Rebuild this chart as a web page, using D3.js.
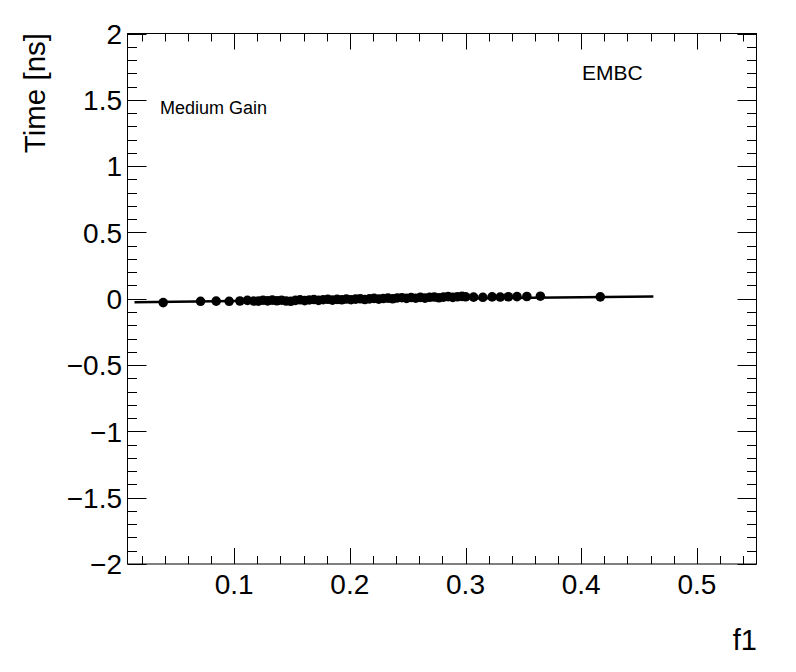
<!DOCTYPE html>
<html><head><meta charset="utf-8">
<script src="https://cdn.jsdelivr.net/npm/d3@7"></script>
<style>body{margin:0;background:#fff}svg{display:block}text{font-family:"Liberation Sans",Arial,sans-serif;fill:#000}</style>
</head><body>
<svg id="c" width="796" height="672"></svg>
<script>
const f1Values = [0.0387,0.071,0.0845,0.0957,0.105,0.1115,0.117,
0.121,0.125,0.129,0.133,0.137,0.141,0.145,0.149,0.153,0.157,0.161,0.165,0.169,0.173,0.177,0.181,0.185,0.189,0.193,0.197,
0.201,0.205,0.209,0.213,0.217,0.221,0.225,0.229,0.233,0.237,0.241,0.245,0.249,0.253,0.257,0.261,0.265,0.269,0.273,0.277,
0.281,0.285,0.289,0.293,0.297,0.300,0.307,0.315,0.323,0.330,0.337,0.3445,0.353,0.3647,0.4165];
const timeValues = [-0.029,-0.019,-0.018,-0.019,-0.017,-0.012,-0.017,
-0.018,-0.011,-0.016,-0.010,-0.015,-0.011,-0.017,-0.019,-0.012,-0.008,-0.014,-0.009,-0.006,-0.012,-0.007,-0.004,-0.010,-0.005,-0.008,-0.002,
-0.007,-0.003,0.000,-0.006,-0.001,0.003,-0.003,0.002,0.005,0.000,0.006,0.008,0.003,0.009,0.004,0.010,0.005,0.011,0.013,0.007,
0.012,0.016,0.010,0.015,0.018,0.015,0.012,0.011,0.014,0.013,0.015,0.016,0.017,0.019,0.014];
const fitX = [0.0139, 0.4624];
const fitY = [-0.026, 0.017];
const xTicks = [0.1,0.2,0.3,0.4,0.5];
const yTicks = [2,1.5,1,0.5,0,-0.5,-1,-1.5,-2];
const yTickLabels = ["2","1.5","1","0.5","0","\u22120.5","\u22121","\u22121.5","\u22122"];

const svg = d3.select("#c");
const L=127.5, R=756.5, T=33.5, B=564;
const x = d3.scaleLinear().domain([0.00785,0.5515]).range([L,R]);
const y = d3.scaleLinear().domain([-2,2]).range([B,T]);

svg.append("rect").attr("x",L).attr("y",T).attr("width",R-L).attr("height",B-T)
  .attr("fill","none").attr("stroke","#000").attr("stroke-width",1);

const xMinor = d3.range(1,28).map(i=>i*0.02).filter(v=>v>0.00785&&v<0.5515);
const g = svg.append("g").attr("stroke","#000").attr("stroke-width",1);
xMinor.forEach(v=>{
  const isMajor = xTicks.some(t=>Math.abs(t-v)<1e-9);
  const len = isMajor?16:8;
  const px = Math.round(x(v))+0.5;
  g.append("line").attr("x1",px).attr("x2",px).attr("y1",B).attr("y2",B-len);
  g.append("line").attr("x1",px).attr("x2",px).attr("y1",T).attr("y2",T+len);
});
d3.range(-20,21).forEach(i=>{
  const v=i/10; const isMajor = i%5===0; const len=isMajor?19:9.5;
  const py = Math.round(y(v))+0.5;
  g.append("line").attr("x1",L).attr("x2",L+len).attr("y1",py).attr("y2",py);
  g.append("line").attr("x1",R).attr("x2",R-len).attr("y1",py).attr("y2",py);
});

svg.selectAll(".xl").data(xTicks).enter().append("text")
  .attr("x",d=>x(d)).attr("y",594).attr("text-anchor","middle").attr("font-size",28).text(d=>d.toFixed(1));
svg.selectAll(".yl").data(yTicks).enter().append("text")
  .attr("x",122).attr("y",d=>y(d)+10.2).attr("text-anchor","end").attr("font-size",28).text((d,i)=>yTickLabels[i]);

svg.append("text").attr("transform","translate(45,33) rotate(-90)").attr("text-anchor","end")
  .attr("font-size",29.5).text("Time [ns]");
svg.append("text").attr("x",757).attr("y",650).attr("text-anchor","end").attr("font-size",29).text("f1");

svg.append("text").attr("x",160).attr("y",114).attr("font-size",18).text("Medium Gain");
svg.append("text").attr("x",582).attr("y",80).attr("font-size",21).text("EMBC");

svg.append("line").attr("x1",x(fitX[0])).attr("y1",y(fitY[0])).attr("x2",x(fitX[1])).attr("y2",y(fitY[1]))
  .attr("stroke","#000").attr("stroke-width",2.5);

svg.selectAll(".pt").data(f1Values).enter().append("circle")
  .attr("cx",d=>x(d)).attr("cy",(d,i)=>y(timeValues[i])).attr("r",4.8).attr("fill","#000");
</script>
</body></html>
